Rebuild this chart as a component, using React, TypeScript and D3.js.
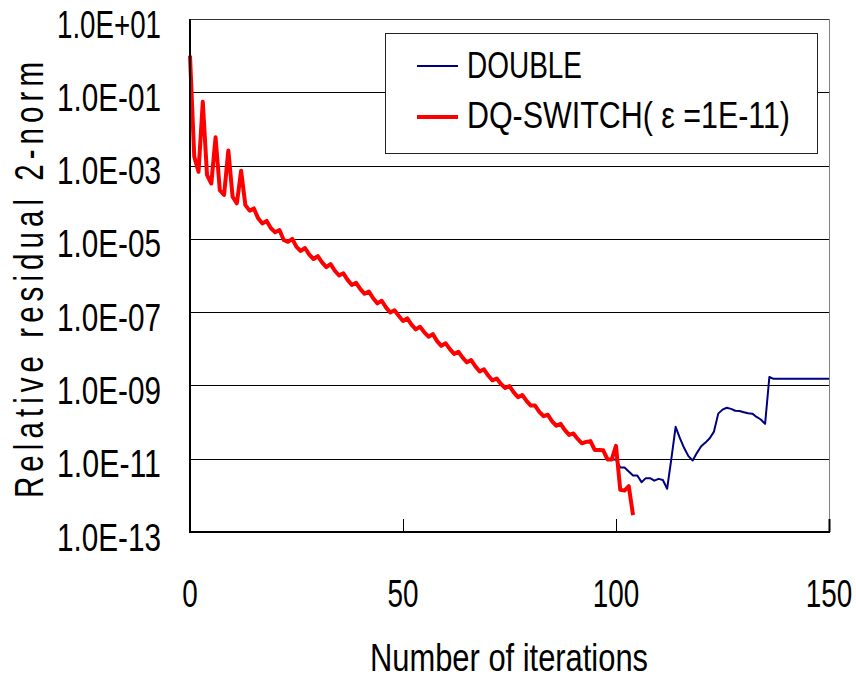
import React from "react";
import * as d3 from "d3";

// log10 of relative residual 2-norm, DQ-SWITCH (eps=1E-11), iterations 0..104
const switchLog: number[] = [
  0.0, -2.76, -3.17, -1.26, -3.26, -3.49, -2.23, -3.67, -3.8, -2.59,
  -3.85, -4.03, -3.14, -4.08, -4.23, -4.17, -4.44, -4.58, -4.51, -4.71,
  -4.82, -4.76, -5.03, -5.08, -5.0, -5.22, -5.33, -5.25, -5.43, -5.55,
  -5.47, -5.64, -5.77, -5.69, -5.87, -6.0, -5.94, -6.12, -6.26, -6.2,
  -6.37, -6.5, -6.44, -6.62, -6.76, -6.69, -6.87, -7.01, -6.95, -7.1,
  -7.24, -7.17, -7.34, -7.47, -7.4, -7.55, -7.67, -7.6, -7.79, -7.92,
  -7.85, -8.01, -8.14, -8.08, -8.24, -8.37, -8.31, -8.48, -8.62, -8.56,
  -8.73, -8.86, -8.81, -8.96, -9.07, -9.02, -9.19, -9.32, -9.26, -9.42,
  -9.55, -9.55, -9.72, -9.84, -9.8, -9.98, -10.1, -10.05, -10.22, -10.35,
  -10.31, -10.46, -10.58, -10.54, -10.52, -10.76, -10.76, -10.77, -11.02, -11.02,
  -10.65, -11.85, -11.87, -11.75, -12.54,
];

// DOUBLE coincides with DQ-SWITCH up to iteration 99; its own values from 100..150
const doubleTailLog: number[] = [
  -11.02, -11.24, -11.24, -11.35, -11.46, -11.46, -11.64, -11.53, -11.53, -11.6,
  -11.55, -11.58, -11.82, -11.0, -10.13, -10.44, -10.71, -10.93, -11.05, -10.84,
  -10.66, -10.56, -10.44, -10.26, -9.77, -9.66, -9.61, -9.64, -9.69, -9.7,
  -9.73, -9.76, -9.77, -9.86, -9.93, -10.05, -8.77, -8.82, -8.82, -8.82,
  -8.82, -8.82, -8.82, -8.82, -8.82, -8.82, -8.82, -8.82, -8.82, -8.82,
  -8.82,
];
const doubleLog: number[] = switchLog.slice(0, 100).concat(doubleTailLog);

const yTicks: number[] = [1e1, 1e-1, 1e-3, 1e-5, 1e-7, 1e-9, 1e-11, 1e-13];
const yTickLabels: string[] = [
  "1.0E+01", "1.0E-01", "1.0E-03", "1.0E-05", "1.0E-07", "1.0E-09", "1.0E-11", "1.0E-13",
];
const xTicks: number[] = [0, 50, 100, 150];
const seriesNames: string[] = ["DOUBLE", "DQ-SWITCH( ε =1E-11)"];
const seriesColors: string[] = ["#000080", "#ff0000"];

const W = 856;
const H = 676;
const L = 190, R = 829, T = 19, B = 532;

const SANS = "'Liberation Sans', Arial, sans-serif";

export default function App() {
  const x = d3.scaleLinear().domain([0, 150]).range([L, R]);
  const y = d3.scaleLog().domain([1e1, 1e-13]).range([T, B]);
  const line = d3
    .line<number>()
    .x((_, i) => x(i))
    .y((v) => y(Math.pow(10, v)));

  const snap = (v: number) => Math.round(v) + 0.5;
  const titleScale = 0.72;

  return (
    <svg
      width={W}
      height={H}
      style={{ position: "absolute", left: 0, top: 0, background: "#fff" }}
    >
      <rect x={0} y={0} width={W} height={H} fill="#fff" />
      {/* gridlines */}
      {yTicks.slice(1, -1).map((t) => (
        <line key={t} x1={L} x2={R} y1={snap(y(t))} y2={snap(y(t))} stroke="#000" strokeWidth={1} />
      ))}
      {/* frame */}
      <line x1={L} x2={R} y1={T + 0.5} y2={T + 0.5} stroke="#333" strokeWidth={1} />
      <line x1={R + 0.5} x2={R + 0.5} y1={T} y2={B} stroke="#808080" strokeWidth={1} />
      {/* x ticks (inward) */}
      {xTicks.map((t) => (
        <line key={t} x1={snap(x(t))} x2={snap(x(t))} y1={B - 13} y2={B} stroke="#000" strokeWidth={t === 150 ? 2 : 1} />
      ))}
      {/* series */}
      <path d={line(doubleLog) || ""} fill="none" stroke={seriesColors[0]} strokeWidth={2} strokeLinejoin="round" />
      <path d={line(switchLog) || ""} fill="none" stroke={seriesColors[1]} strokeWidth={4} strokeLinejoin="round" />
      {/* axes */}
      <line x1={L} x2={L} y1={T} y2={B + 1} stroke="#000" strokeWidth={2} />
      <line x1={L - 1} x2={R + 1} y1={B} y2={B} stroke="#000" strokeWidth={2} />
      {/* y tick labels */}
      {yTicks.map((t, i) => (
        <text
          key={t}
          x={57}
          y={y(t) + 18.5}
          fontFamily={SANS}
          fontSize={38}
          textLength={104}
          lengthAdjust="spacingAndGlyphs"
          fill="#000"
        >
          {yTickLabels[i]}
        </text>
      ))}
      {/* x tick labels */}
      {xTicks.map((t) => {
        const s = String(t);
        const len = s.length * 15.5;
        return (
          <text
            key={t}
            x={x(t) - len / 2}
            y={607}
            fontFamily={SANS}
            fontSize={38}
            textLength={len}
            lengthAdjust="spacingAndGlyphs"
            fill="#000"
          >
            {s}
          </text>
        );
      })}
      {/* axis titles */}
      <text
        x={370}
        y={671}
        fontFamily={SANS}
        fontSize={38}
        textLength={278}
        lengthAdjust="spacingAndGlyphs"
        fill="#000"
      >
        Number of iterations
      </text>
      <g transform={`translate(43,498) rotate(-90) scale(${titleScale},1)`}>
        <text
          x={0}
          y={0}
          fontFamily={SANS}
          fontSize={41}
          textLength={436 / titleScale}
          lengthAdjust="spacing"
          fill="#000"
        >
          Relative residual 2-norm
        </text>
      </g>
      {/* legend */}
      <rect x={385.5} y={33.5} width={432} height={120} fill="#fff" stroke="#222" strokeWidth={1} />
      <line x1={417} x2={458} y1={66} y2={66} stroke={seriesColors[0]} strokeWidth={2} />
      <line x1={417} x2={458} y1={117} y2={117} stroke={seriesColors[1]} strokeWidth={4} />
      <text x={467} y={77.5} fontFamily={SANS} fontSize={37} textLength={115} lengthAdjust="spacingAndGlyphs" fill="#000">
        {seriesNames[0]}
      </text>
      <text x={467} y={128} fontFamily={SANS} fontSize={37} textLength={323} lengthAdjust="spacingAndGlyphs" fill="#000">
        {seriesNames[1]}
      </text>
    </svg>
  );
}
